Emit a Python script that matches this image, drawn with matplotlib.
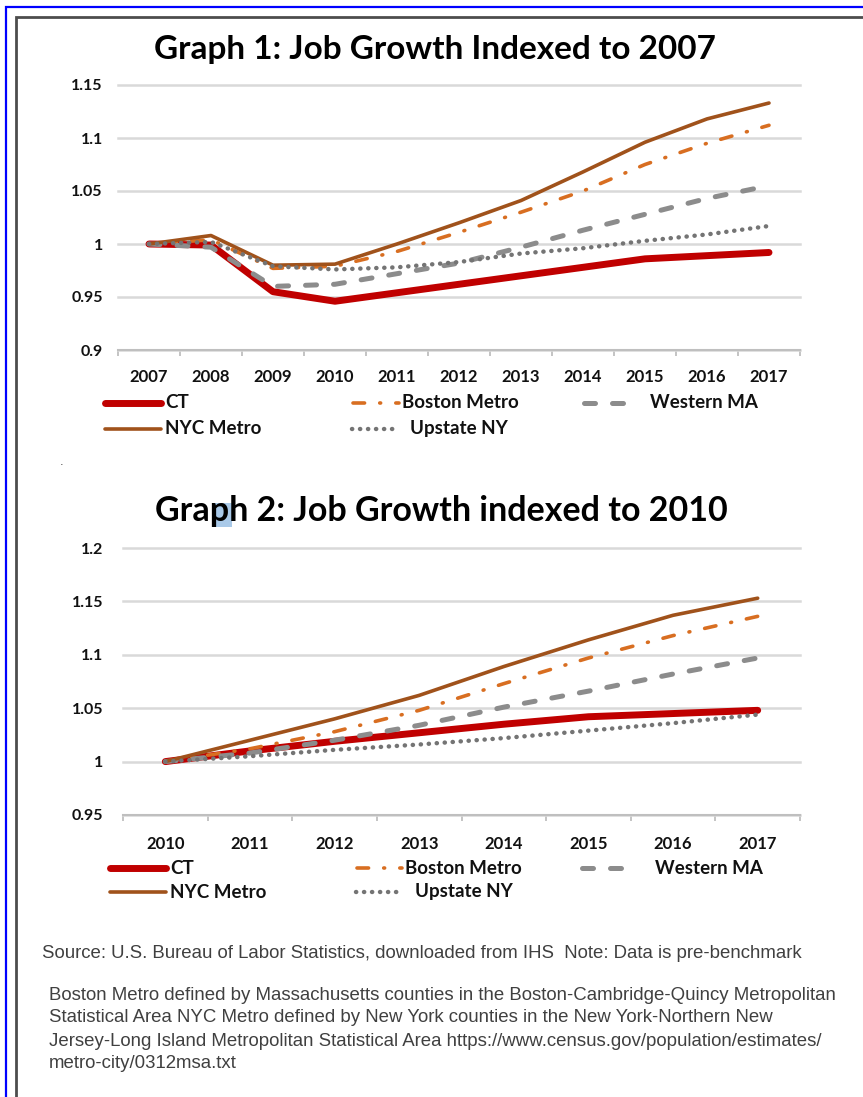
import numpy as np
import matplotlib
matplotlib.use("Agg")
import matplotlib.pyplot as plt
from matplotlib.lines import Line2D
from matplotlib.patches import Rectangle

# data
years1 = [2007, 2008, 2009, 2010, 2011, 2012, 2013, 2014, 2015, 2016, 2017]
ct1 = [1.000, 0.999, 0.955, 0.946, 0.954, 0.962, 0.970, 0.978, 0.986, 0.989, 0.992]
boston1 = [1.000, 1.004, 0.977, 0.979, 0.993, 1.011, 1.030, 1.050, 1.075, 1.095, 1.112]
wma1 = [1.000, 0.997, 0.960, 0.962, 0.972, 0.982, 0.997, 1.013, 1.028, 1.043, 1.055]
nyc1 = [1.000, 1.008, 0.980, 0.981, 1.000, 1.020, 1.041, 1.068, 1.096, 1.118, 1.133]
upstate1 = [1.000, 1.002, 0.979, 0.976, 0.978, 0.983, 0.991, 0.996, 1.003, 1.009, 1.017]

years2 = [2010, 2011, 2012, 2013, 2014, 2015, 2016, 2017]
ct2 = [1.000, 1.010, 1.019, 1.027, 1.035, 1.042, 1.045, 1.048]
boston2 = [1.000, 1.012, 1.028, 1.048, 1.073, 1.097, 1.118, 1.136]
wma2 = [1.000, 1.008, 1.020, 1.034, 1.051, 1.066, 1.082, 1.097]
nyc2 = [1.000, 1.020, 1.040, 1.062, 1.089, 1.114, 1.137, 1.153]
upstate2 = [1.000, 1.005, 1.011, 1.016, 1.022, 1.029, 1.036, 1.044]

series_names = ["CT", "Boston Metro", "Western MA", "NYC Metro", "Upstate NY"]
title1 = "Graph 1: Job Growth Indexed to 2007"
title2 = "Graph 2: Job Growth indexed to 2010"
source_note = "Source: U.S. Bureau of Labor Statistics, downloaded from IHS  Note: Data is pre-benchmark"
definition_lines = [
    "Boston Metro defined by Massachusetts counties in the Boston-Cambridge-Quincy Metropolitan",
    "Statistical Area NYC Metro defined by New York counties in the New York-Northern New",
    "Jersey-Long Island Metropolitan Statistical Area https://www.census.gov/population/estimates/",
    "metro-city/0312msa.txt",
]

STYLES = {
    "CT": dict(color="#C00000", lw=5.0, solid_capstyle="round"),
    "Boston Metro": dict(color="#D86E21", lw=2.6, dashes=(3.2, 4.2, 0.25, 4.2),
                         dash_capstyle="round"),
    "Western MA": dict(color="#8C8C8C", lw=3.6, dashes=(2.2, 3.4), dash_capstyle="round"),
    "NYC Metro": dict(color="#A0521B", lw=2.6, solid_capstyle="round"),
    "Upstate NY": dict(color="#747474", lw=3.2, dashes=(0.05, 1.75), dash_capstyle="round"),
}

W, H = 863, 1097
BOLD = "Lato"
GRID = "#D9D9D9"
AXIS = "#BFBFBF"


def fx(x):
    return x / W


def fy(y):
    return 1 - y / H


def draw_panel(ax, years, values, ylim, ystep, xpad):
    n = len(years)
    for name, vals in zip(series_names, values):
        ax.plot(range(n), vals, **STYLES[name])

    ax.set_xlim(-0.5, n - 0.5)
    ax.set_ylim(*ylim)
    yt = np.arange(ylim[0], ylim[1] + ystep / 2, ystep)
    ax.set_yticks(yt)
    ax.set_yticklabels([f"{v:g}" for v in yt])
    ax.set_xticks(range(n))
    ax.set_xticklabels([str(y) for y in years])
    ax.set_xticks(np.arange(-0.5, n), minor=True)

    for s in ["top", "right", "left"]:
        ax.spines[s].set_visible(False)
    ax.spines["bottom"].set_color(AXIS)
    ax.spines["bottom"].set_linewidth(1.5)

    ax.tick_params(axis="y", length=0, pad=xpad[0], labelsize=11.5, labelcolor="#111111")
    ax.tick_params(axis="x", which="major", length=0, pad=xpad[1], labelsize=12,
                   labelcolor="#111111")
    ax.tick_params(axis="x", which="minor", length=4, width=1.3, color=AXIS, direction="out")
    for lab in ax.get_xticklabels() + ax.get_yticklabels():
        lab.set_fontfamily(BOLD)
        lab.set_fontweight("bold")

    ax.yaxis.grid(True, color=GRID, lw=1.8)
    ax.set_axisbelow(True)
    for gl in ax.get_ygridlines():
        gl.set_clip_on(False)


def legend_entry(fig, name, x0, x1, y, tx):
    line = Line2D([fx(x0), fx(x1)], [fy(y), fy(y)], transform=fig.transFigure, **STYLES[name])
    fig.add_artist(line)
    fig.text(fx(tx), fy(y), name, ha="left", va="center", fontsize=13.5,
             fontfamily=BOLD, fontweight="bold", color="#111111")


fig = plt.figure(figsize=(W / 100, H / 100), dpi=100)
fig.patch.set_facecolor("white")

# page frames
fig.add_artist(Rectangle((fx(6), fy(1200)), fx(900), fy(7) - fy(1200), transform=fig.transFigure,
                         fill=False, ec="#0000FF", lw=1.6, zorder=0))
fig.add_artist(Rectangle((fx(15.5), fy(1200)), fx(900), fy(17) - fy(1200), transform=fig.transFigure,
                         fill=False, ec="#4D4D4D", lw=2.0, zorder=0))

# graph 1
ax1 = fig.add_axes([fx(118), fy(350), fx(800) - fx(118), fy(85) - fy(350)])
draw_panel(ax1, years1, [ct1, boston1, wma1, nyc1, upstate1], (0.9, 1.15), 0.05, (11, 14))
fig.text(fx(435), fy(50), title1, ha="center", va="center", fontsize=24,
         fontfamily=BOLD, fontweight="bold", color="#000000")

legend_entry(fig, "CT", 105, 161, 403, 165)
legend_entry(fig, "Boston Metro", 353, 399, 403, 402)
legend_entry(fig, "Western MA", 584, 628, 403, 650)
legend_entry(fig, "NYC Metro", 105, 161, 429, 165)
legend_entry(fig, "Upstate NY", 352, 398, 429, 410)

fig.text(fx(60), fy(465), ".", fontsize=8, color="#333333")

# graph 2
ax2 = fig.add_axes([fx(123), fy(815), fx(800) - fx(123), fy(548) - fy(815)])
draw_panel(ax2, years2, [ct2, boston2, wma2, nyc2, upstate2], (0.95, 1.2), 0.05, (14, 15))
fig.add_artist(Rectangle((fx(213), fy(527)), fx(19), fy(503) - fy(527), transform=fig.transFigure,
                         fc="#A9C9E8", ec="none", zorder=1))
fig.text(fx(441), fy(511), title2, ha="center", va="center", fontsize=24.5,
         fontfamily=BOLD, fontweight="bold", color="#000000", zorder=3)

legend_entry(fig, "CT", 110, 166, 868, 170)
legend_entry(fig, "Boston Metro", 357, 402, 868, 405)
legend_entry(fig, "Western MA", 582, 634, 868, 655)
legend_entry(fig, "NYC Metro", 110, 166, 892, 170)
legend_entry(fig, "Upstate NY", 356, 400, 892, 415)

# notes
fig.text(fx(42), fy(953), source_note, ha="left", va="center", fontsize=13.4,
         fontfamily="Liberation Sans", color="#404040")
for i, line in enumerate(definition_lines):
    fig.text(fx(49), fy(995 + 23 * i), line, ha="left", va="center", fontsize=13.4,
             fontfamily="Liberation Sans", color="#404040")

fig.savefig("out.png", dpi=100)
